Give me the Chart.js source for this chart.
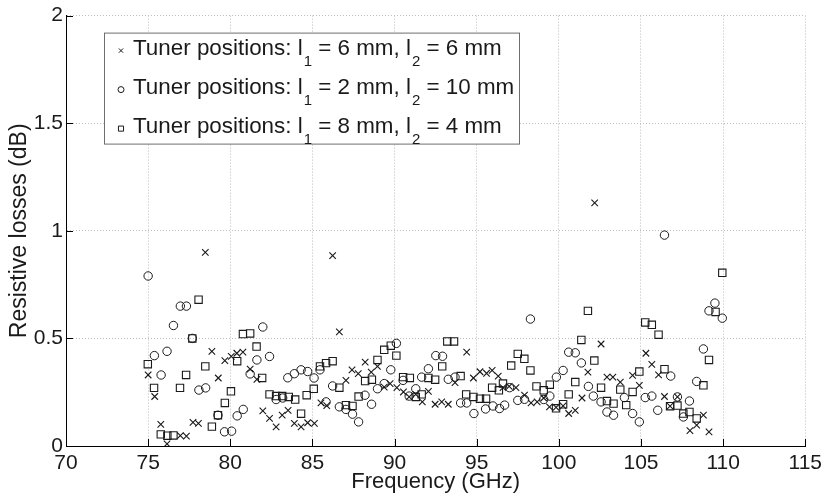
<!DOCTYPE html>
<html><head><meta charset="utf-8">
<script src="https://cdn.jsdelivr.net/npm/chart.js@4.4.0/dist/chart.umd.min.js"></script>
<style>html,body{margin:0;padding:0;background:#fff;}#wrap{width:827px;height:497px;}</style>
</head><body><div id="wrap"><canvas id="c" width="827" height="497"></canvas></div>
<script>
const xTickValues = [70,75,80,85,90,95,100,105,110,115];
const xTickLabels = ['70','75','80','85','90','95','100','105','110','115'];
const yTickValues = [0,0.5,1,1.5,2];
const yTickLabels = ['0','0.5','1','1.5','2'];
const xTitle = 'Frequency (GHz)';
const yTitle = 'Resistive losses (dB)';
// legend text parts: even index = normal text, odd index = subscript
const legendParts1 = ['Tuner positions: l','1',' = 6 mm, l','2',' = 6 mm'];
const legendParts2 = ['Tuner positions: l','1',' = 2 mm, l','2',' = 10 mm'];
const legendParts3 = ['Tuner positions: l','1',' = 8 mm, l','2',' = 4 mm'];

const freqCross = [75.0,75.4,75.77,76.15,76.96,77.33,77.73,78.06,78.48,78.88,79.27,79.67,80.06,80.4,80.77,81.21,81.62,81.98,82.39,82.79,83.16,83.52,83.9,84.31,84.71,85.12,85.52,85.87,86.23,86.64,87.04,87.41,87.79,88.21,88.58,88.96,89.37,89.73,90.14,90.54,90.89,91.29,91.69,92.06,92.47,92.87,93.27,93.68,94.39,94.8,95.2,95.6,95.94,96.31,96.6,96.98,97.39,97.91,98.31,98.68,99.08,99.43,99.83,100.26,100.6,101.0,101.41,101.77,102.18,102.57,102.93,103.29,103.74,104.49,104.9,105.3,105.66,106.07,106.43,106.77,107.22,107.98,108.39,108.8,109.14];
const lossCross = [0.33,0.23,0.10,0.01,0.048,0.046,0.11,0.105,0.90,0.44,0.316,0.397,0.416,0.431,0.436,0.357,0.31,0.163,0.128,0.089,0.143,0.166,0.105,0.089,0.108,0.105,0.2,0.188,0.885,0.53,0.305,0.354,0.336,0.39,0.343,0.37,0.274,0.29,0.271,0.251,0.228,0.24,0.205,0.254,0.194,0.205,0.194,0.294,0.436,0.316,0.345,0.338,0.351,0.325,0.271,0.277,0.271,0.236,0.2,0.205,0.223,0.182,0.179,0.186,0.151,0.166,0.223,0.343,1.13,0.474,0.32,0.32,0.297,0.328,0.282,0.431,0.379,0.331,0.23,0.185,0.228,0.071,0.097,0.143,0.066];

const freqCircle = [75.0,75.38,75.79,76.15,76.54,76.96,77.33,77.69,78.09,78.5,79.25,79.65,80.08,80.42,80.79,81.21,81.62,81.98,82.39,82.79,83.19,83.5,83.9,84.31,84.71,85.1,85.46,85.83,86.23,86.64,87.04,87.44,87.81,88.2,88.6,88.96,89.37,89.77,90.11,90.52,90.89,91.29,91.65,92.06,92.51,92.92,93.27,93.68,94.02,94.39,94.83,95.54,95.99,96.39,96.7,97.0,97.5,97.91,98.27,99.08,99.45,99.85,100.26,100.6,101.0,101.37,101.8,102.1,102.57,102.93,103.33,103.99,104.49,104.9,105.26,105.66,106.02,106.43,106.81,107.22,107.58,107.95,108.39,108.8,109.14,109.5,109.95];
const lossCircle = [0.79,0.42,0.33,0.44,0.56,0.65,0.65,0.50,0.26,0.27,0.143,0.066,0.069,0.14,0.17,0.335,0.40,0.553,0.416,0.216,0.223,0.317,0.336,0.354,0.346,0.316,0.354,0.205,0.279,0.182,0.17,0.148,0.112,0.236,0.194,0.266,0.29,0.354,0.477,0.305,0.232,0.266,0.32,0.359,0.42,0.417,0.31,0.32,0.2,0.2,0.151,0.172,0.186,0.174,0.19,0.271,0.212,0.217,0.59,0.216,0.232,0.32,0.351,0.436,0.433,0.386,0.277,0.232,0.205,0.158,0.143,0.225,0.151,0.112,0.225,0.232,0.166,0.98,0.325,0.228,0.135,0.209,0.30,0.451,0.628,0.664,0.594];

const freqSquare = [74.98,75.36,75.77,76.17,76.54,76.94,77.31,77.69,78.07,78.48,78.88,79.25,79.67,80.04,80.42,80.77,81.21,81.6,81.94,82.39,82.79,83.16,83.56,83.95,84.31,84.65,85.08,85.46,85.83,86.23,86.64,87.04,87.44,87.81,88.21,88.62,88.96,89.37,89.77,90.11,90.52,90.93,91.29,91.65,92.06,92.47,92.9,93.21,93.62,94.02,94.36,94.8,95.2,95.57,95.94,96.35,96.6,97.1,97.5,97.9,98.27,98.64,99.08,99.45,99.83,100.26,100.6,101.0,101.37,101.77,102.16,102.57,102.93,103.33,103.74,104.1,104.49,104.9,105.26,105.66,106.07,106.43,106.77,107.22,107.58,107.95,108.39,108.8,109.14,109.54,109.95];
const lossSquare = [0.38,0.27,0.054,0.048,0.049,0.27,0.33,0.50,0.68,0.37,0.09,0.143,0.2,0.254,0.394,0.52,0.523,0.462,0.316,0.24,0.232,0.232,0.228,0.216,0.15,0.236,0.266,0.37,0.385,0.394,0.271,0.19,0.186,0.23,0.302,0.308,0.40,0.447,0.466,0.42,0.32,0.316,0.228,0.24,0.316,0.308,0.37,0.486,0.486,0.325,0.24,0.228,0.22,0.22,0.271,0.259,0.29,0.374,0.428,0.405,0.351,0.277,0.259,0.285,0.175,0.194,0.24,0.297,0.493,0.628,0.397,0.271,0.209,0.197,0.262,0.19,0.251,0.346,0.574,0.563,0.517,0.357,0.185,0.188,0.151,0.158,0.128,0.282,0.40,0.623,0.805];

const FONT = '"Liberation Sans", Arial, Helvetica, sans-serif';
const INK = '#1a1a1a';
const toPts = (fs, vs) => fs.map((f, i) => ({x: f, y: vs[i]}));

const datasets = [
  {label: legendParts1.join(''), data: toPts(freqCross, lossCross), pointStyle: 'crossRot', pointRadius: 4.6, borderColor: INK, backgroundColor: 'rgba(0,0,0,0)', borderWidth: 1.1},
  {label: legendParts2.join(''), data: toPts(freqCircle, lossCircle), pointStyle: 'circle', pointRadius: 4.2, borderColor: INK, backgroundColor: 'rgba(0,0,0,0)', borderWidth: 1},
  {label: legendParts3.join(''), data: toPts(freqSquare, lossSquare), pointStyle: 'rect', pointRadius: 5.2, borderColor: INK, backgroundColor: 'rgba(0,0,0,0)', borderWidth: 1.1}
];

const decor = {
  id: 'decor',
  afterDatasetsDraw(chart) {
    const {ctx, chartArea: a, scales: {x, y}} = chart;
    ctx.save();
    // inward tick marks
    ctx.strokeStyle = '#000'; ctx.lineWidth = 1; ctx.setLineDash([]);
    ctx.beginPath();
    xTickValues.forEach(v => { const px = Math.round(x.getPixelForValue(v)) + 0.5; ctx.moveTo(px, a.bottom); ctx.lineTo(px, a.bottom - 7); });
    yTickValues.forEach(v => { const py = Math.round(y.getPixelForValue(v)) + 0.5; ctx.moveTo(a.left, py); ctx.lineTo(a.left + 7, py); });
    ctx.stroke();
    // legend box
    const bx = a.left + 38, by = a.top + 17, bw = 415, bh = 111;
    ctx.fillStyle = '#fff';
    ctx.fillRect(bx, by, bw, bh);
    ctx.strokeStyle = '#6e6e6e';
    ctx.strokeRect(bx + 0.5, by + 0.5, bw, bh);
    const rows = [legendParts1, legendParts2, legendParts3];
    const styles = ['crossRot', 'circle', 'rect'];
    const radii = [3, 3, 3.6];
    rows.forEach((parts, r) => {
      const base = by + 22 + r * 39;
      ctx.strokeStyle = INK; ctx.lineWidth = 1; ctx.fillStyle = 'rgba(0,0,0,0)';
      Chart.helpers.drawPoint(ctx, {pointStyle: styles[r], radius: radii[r], borderWidth: 1}, bx + 17, base - 4);
      let tx = bx + 29;
      ctx.fillStyle = INK; ctx.textBaseline = 'alphabetic'; ctx.textAlign = 'left';
      parts.forEach((p, i) => {
        if (i % 2 === 0) { ctx.font = '22.4px ' + FONT; ctx.fillText(p, tx, base); }
        else { ctx.font = '15px ' + FONT; ctx.fillText(p, tx + 1, base + 11); }
        tx += ctx.measureText(p).width + (i % 2 ? 1 : 0);
      });
    });
    ctx.restore();
  }
};

new Chart(document.getElementById('c'), {
  type: 'scatter',
  data: {datasets},
  options: {
    responsive: false, animation: false, devicePixelRatio: 1,
    layout: {padding: {top: 13, right: 20, left: 0, bottom: 0}},
    plugins: {legend: {display: false}, tooltip: {enabled: false}},
    scales: {
      x: {
        type: 'linear', min: 70, max: 115,
        afterBuildTicks: s => { s.ticks = xTickValues.map(v => ({value: v})); },
        ticks: {callback: (v, i) => xTickLabels[i], font: {family: FONT, size: 21}, color: INK, padding: 5, maxRotation: 0, autoSkip: false},
        grid: {color: '#bcbcbc', lineWidth: 1, drawTicks: false},
        border: {display: true, color: '#000', width: 1, dash: [1, 2]},
        title: {display: true, text: xTitle, font: {family: FONT, size: 22}, color: INK, padding: {top: 0, bottom: 2}},
        afterFit: s => { s.height = 51; }
      },
      y: {
        type: 'linear', min: 0, max: 2,
        afterBuildTicks: s => { s.ticks = yTickValues.map(v => ({value: v})); },
        ticks: {callback: (v, i) => yTickLabels[i], font: {family: FONT, size: 21}, color: INK, padding: 3, autoSkip: false},
        grid: {color: '#bcbcbc', lineWidth: 1, drawTicks: false},
        border: {display: true, color: '#000', width: 1, dash: [1, 2]},
        title: {display: true, text: yTitle, font: {family: FONT, size: 23}, color: INK, padding: {top: 6, bottom: 0}},
        afterFit: s => { s.width = 66; }
      }
    }
  },
  plugins: [decor]
});
</script>
</body></html>
